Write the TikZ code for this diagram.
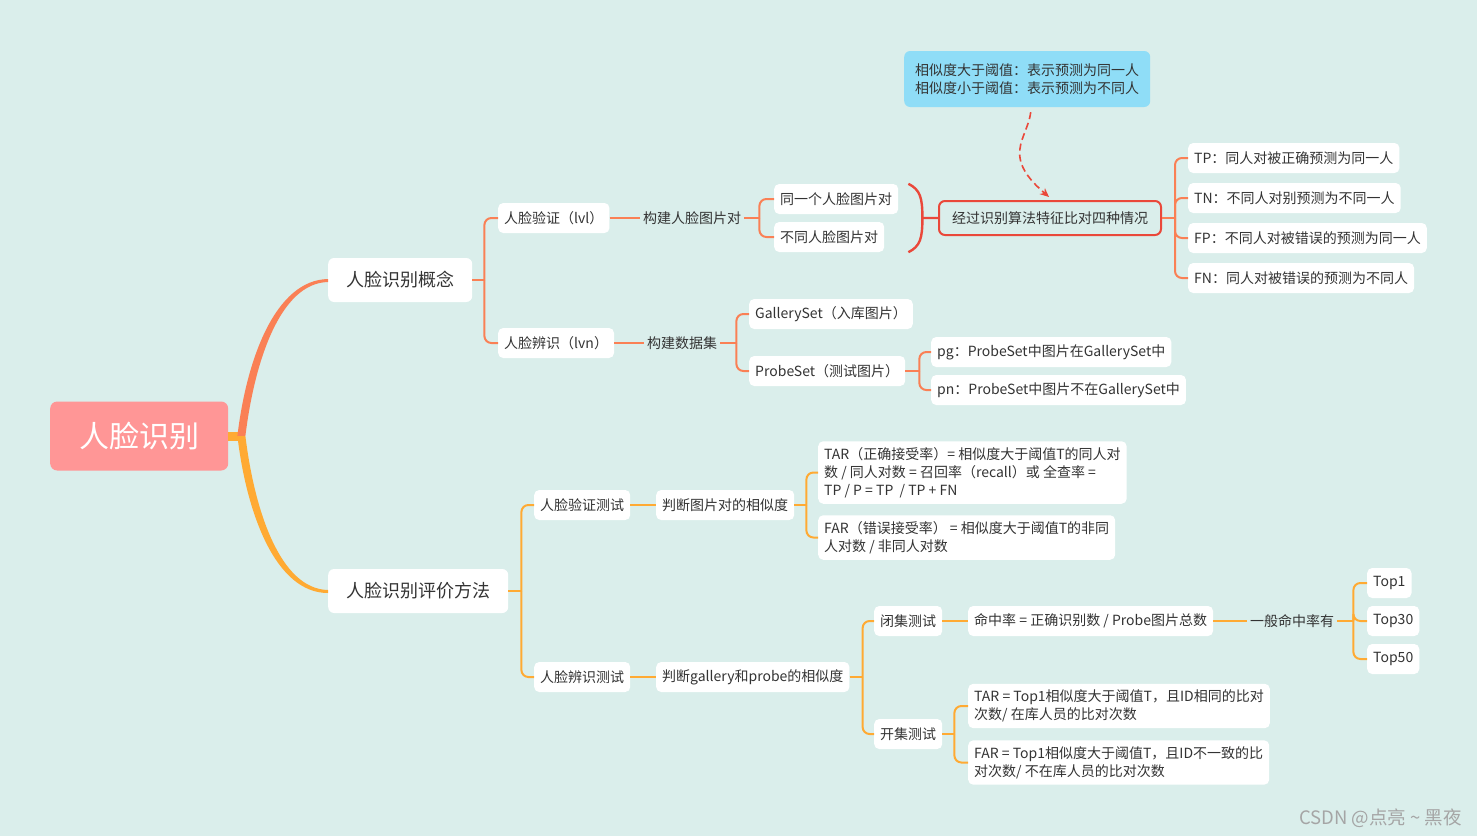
\documentclass[tikz,border=0pt]{standalone}
\usepackage{fontspec}
\setmainfont{Noto Sans CJK SC}
\usetikzlibrary{calc,arrows.meta}
\definecolor{bg}{RGB}{218,238,235}
\definecolor{coral}{RGB}{250,128,85}
\definecolor{orng}{RGB}{255,170,51}
\definecolor{rootc}{RGB}{255,150,150}
\definecolor{redc}{RGB}{234,72,58}
\definecolor{bluec}{RGB}{143,221,247}
\definecolor{txt}{RGB}{51,51,51}
\definecolor{wm}{RGB}{165,165,165}
\newcommand\fsA{\fontsize{14}{18}\selectfont}
\newcommand\fsB{\fontsize{18}{22}\selectfont}
\newcommand\fsC{\fontsize{30}{36}\selectfont}
\newcommand\forkto[4]{%
  \draw[#1] (#2.east) -- ++(#3,0);
  \draw[#1,rounded corners=7pt] ($(#2.east)+(#3,0)$) |- (#4.west);}
\begin{document}
\begin{tikzpicture}[x=1pt,y=-1pt,
  box/.style={fill=white, rounded corners=5pt, inner xsep=6pt, inner ysep=0pt,
    minimum height=30pt, text=txt, font=\fsA, anchor=west},
  mbox/.style={box, align=left, inner ysep=6pt},
  lab/.style={inner xsep=3pt, inner ysep=0pt, text=txt, font=\fsA, anchor=west},
  bigbox/.style={fill=white, rounded corners=6pt, inner xsep=18pt, inner ysep=0pt,
    minimum height=44pt, text=txt, font=\fsB, anchor=west},
  rootbox/.style={fill=rootc, rounded corners=7pt, minimum width=178pt,
    minimum height=69pt, text=white, font=\fsC, anchor=west},
  redbox/.style={draw=redc, line width=2pt, fill=bg, rounded corners=6pt,
    inner xsep=13pt, inner ysep=0pt, minimum height=34pt, text=txt, font=\fsA, anchor=west},
  callout/.style={fill=bluec, rounded corners=6pt, inner xsep=11pt, inner ysep=0pt,
    minimum height=56pt, text=txt, font=\fsA, align=left, anchor=west},
  cA/.style={draw=coral, line width=2pt},
  cB/.style={draw=orng, line width=2pt},
  brace/.style={draw=redc, line width=2.4pt},
  dasharrow/.style={draw=redc, line width=1.6pt, dash pattern=on 7pt off 4pt,
    -{Stealth[length=9pt,width=8pt]}}
]
\fill[bg] (0,0) rectangle (1477,836);
\useasboundingbox (0,0) rectangle (1477,836);

% root and main branches
\node[rootbox] (root) at (50,436) {人脸识别};
\node[bigbox] (b1) at (328,280) {人脸识别概念};
\node[bigbox] (b2) at (328,591) {人脸识别评价方法};

\fill[orng] ($(root.east)+(0,-4)$) rectangle ($(root.east)+(16,5)$);
\fill[coral] ($(root.east)+(9,0)$) .. controls ($(root.east)+(18,-76)$) and ($(b1.west)+(-53,0)$) .. ($(b1.west)+(0,-1)$)
  -- ($(b1.west)+(0,2)$) .. controls ($(b1.west)+(-48,3)$) and ($(root.east)+(26,-74)$) .. ($(root.east)+(17,0)$) -- cycle;
\fill[orng] ($(root.east)+(9,0)$) .. controls ($(root.east)+(18,76)$) and ($(b2.west)+(-53,2)$) .. ($(b2.west)+(0,2)$)
  -- ($(b2.west)+(0,-1)$) .. controls ($(b2.west)+(-48,-2)$) and ($(root.east)+(26,74)$) .. ($(root.east)+(17,0)$) -- cycle;

% ---------- concept branch ----------
\node[box] (lvl) at (498,218) {人脸验证（lvl）};
\node[box] (lvn) at (498,343) {人脸辨识（lvn）};
\node[lab] (l1) at (640,218) {构建人脸图片对};
\node[box] (same) at (774,199) {同一个人脸图片对};
\node[box] (diff) at (774,237) {不同人脸图片对};
\node[redbox] (four) at (938,218) {经过识别算法特征比对四种情况};
\node[callout] (note) at (904,79) {相似度大于阈值：表示预测为同一人\\相似度小于阈值：表示预测为不同人};
\node[box] (tp) at (1188,158) {TP：同人对被正确预测为同一人};
\node[box] (tn) at (1188,198) {TN：不同人对别预测为不同一人};
\node[box] (fp) at (1188,238) {FP：不同人对被错误的预测为同一人};
\node[box] (fn) at (1188,278) {FN：同人对被错误的预测为不同人};
\node[lab] (l2) at (644,343) {构建数据集};
\node[box] (gal) at (749,314) {GallerySet（入库图片）};
\node[box] (prb) at (749,371) {ProbeSet（测试图片）};
\node[box] (pg) at (931,352) {pg：ProbeSet中图片在GallerySet中};
\node[box] (pn) at (931,390) {pn：ProbeSet中图片不在GallerySet中};

\forkto{cA}{b1}{12}{lvl}
\forkto{cA}{b1}{12}{lvn}
\draw[cA] (lvl.east) -- (l1.west);
\forkto{cA}{l1}{15}{same}
\forkto{cA}{l1}{15}{diff}
\forkto{cA}{four}{13}{tp}
\forkto{cA}{four}{13}{tn}
\forkto{cA}{four}{13}{fp}
\forkto{cA}{four}{13}{fn}
\draw[cA] (lvn.east) -- (l2.west);
\forkto{cA}{l2}{16}{gal}
\forkto{cA}{l2}{16}{prb}
\forkto{cA}{prb}{14}{pg}
\forkto{cA}{prb}{14}{pn}

\coordinate (bt) at ($(same.north east)+(10,0)$);
\coordinate (bb) at (bt |- diff.south);
\coordinate (bm) at ($(bt)!0.5!(bb)+(14,0)$);
\draw[brace] (bt) .. controls +(12,6) and +(0,-20) .. (bm) .. controls +(0,20) and +(12,-6) .. (bb);
\draw[brace] (bm) -- (four.west);

\draw[dasharrow] ($(note.south)+(3.5,5)$) .. controls ($(note.south)+(1.5,21)$) and ($(note.south)+(-8.5,33)$) .. ($(note.south)+(-7.5,48)$)
  .. controls ($(note.south)+(-6.5,65)$) and ($(note.south)+(9.5,79)$) .. ($(four.north)+(-1,-3)$);

% ---------- evaluation branch ----------
\node[box] (vt) at (534,505) {人脸验证测试};
\node[box] (it) at (534,677) {人脸辨识测试};
\node[box] (j1) at (656,505) {判断图片对的相似度};
\node[mbox] (tar1) at (818,472.5) {TAR（正确接受率）= 相似度大于阈值T的同人对\\数 / 同人对数 = 召回率（recall）或 全查率 =\\TP / P = TP\ \ / TP + FN};
\node[mbox] (far1) at (818,537.5) {FAR（错误接受率） = 相似度大于阈值T的非同\\人对数 / 非同人对数};
\node[box] (j2) at (656,677) {判断gallery和probe的相似度};
\node[box] (cl) at (874,621) {闭集测试};
\node[box] (op) at (874,734) {开集测试};
\node[box] (hit) at (968,621) {命中率 = 正确识别数 / Probe图片总数};
\node[lab] (l3) at (1247,621) {一般命中率有};
\node[box] (t1) at (1367,583) {Top1};
\node[box] (t30) at (1367,621) {Top30};
\node[box] (t50) at (1367,659) {Top50};
\node[mbox] (tar2) at (968,706) {TAR = Top1相似度大于阈值T，且ID相同的比对\\次数/ 在库人员的比对次数};
\node[mbox] (far2) at (968,762.5) {FAR = Top1相似度大于阈值T，且ID不一致的比\\对次数/ 不在库人员的比对次数};

\forkto{cB}{b2}{13}{vt}
\forkto{cB}{b2}{13}{it}
\draw[cB] (vt.east) -- (j1.west);
\forkto{cB}{j1}{12}{tar1}
\forkto{cB}{j1}{12}{far1}
\draw[cB] (it.east) -- (j2.west);
\forkto{cB}{j2}{13}{cl}
\forkto{cB}{j2}{13}{op}
\draw[cB] (cl.east) -- (hit.west);
\draw[cB] (hit.east) -- (l3.west);
\forkto{cB}{l3}{16}{t1}
\forkto{cB}{l3}{16}{t30}
\forkto{cB}{l3}{16}{t50}
\forkto{cB}{op}{12}{tar2}
\forkto{cB}{op}{12}{far2}

\node[anchor=east, text=wm, inner sep=0pt, font=\fontsize{18.5}{22}\selectfont] (wmk) at (1462,818) {CSDN\ @点亮\ \textasciitilde\ 黑夜};
\end{tikzpicture}
\end{document}
